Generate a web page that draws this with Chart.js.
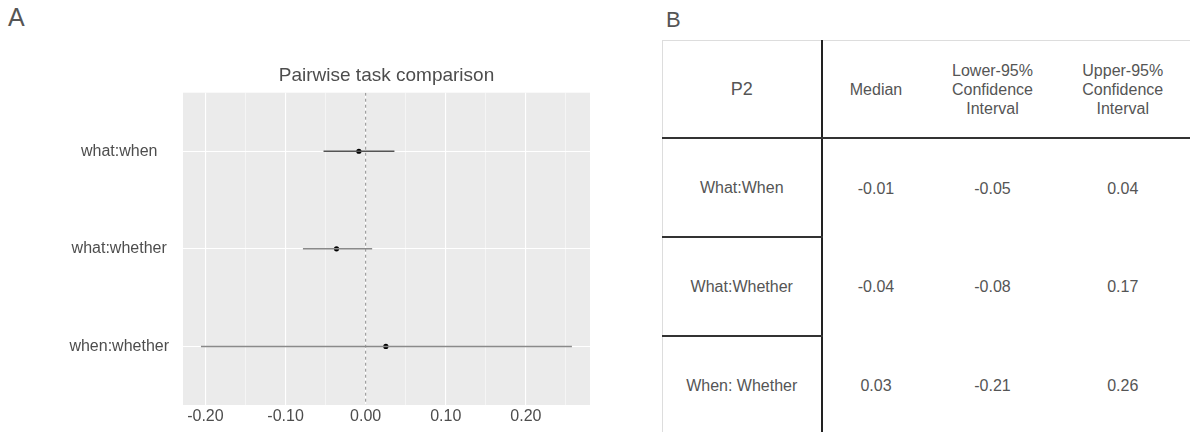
<!DOCTYPE html>
<html>
<head>
<meta charset="utf-8">
<script src="https://cdn.jsdelivr.net/npm/chart.js@4.4.1/dist/chart.umd.min.js"></script>
<style>
    body { margin: 0; background: #fff; width: 1190px; height: 432px; overflow: hidden; position: relative; font-family: "Liberation Sans", Arial, sans-serif; }
    .panel-tag { position: absolute; color: #555; font-weight: normal; }
    #tagA { left: 8px; top: 5px; font-size: 25px; line-height: 25px; }
    #tagB { left: 666px; top: 9px; font-size: 22px; line-height: 22px; }
    #plot-wrap { position: absolute; left: 0; top: 0; width: 600px; height: 432px; }
    #tbl { position: absolute; left: 662px; top: 40px; width: 528px; border-collapse: collapse; table-layout: fixed; }
    #tbl td { text-align: center; vertical-align: middle; color: #555; font-size: 16px; line-height: 19px; padding: 0; }
    #tbl tr.head td { height: 96px; border-top: 1px solid #ddd; border-bottom: 2px solid #333; }
    #tbl tr.body td { height: 97px; }
    #tbl td.name { border-left: 1px solid #ddd; border-right: 2px solid #222; }
    #tbl tr.body td.name.sep { border-bottom: 2px solid #333; }
    #tbl td.last { border-right: 1px solid #ddd; }
    #tbl td.p2 { font-size: 18px; }
</style>
</head>
<body>
<div class="panel-tag" id="tagA">A</div>
<div class="panel-tag" id="tagB">B</div>
<div id="plot-wrap"><canvas id="forest" width="600" height="432"></canvas></div>
<table id="tbl">
    <colgroup><col style="width:159px"><col style="width:108px"><col style="width:126px"><col style="width:135px"></colgroup>
    <tbody id="tbl-body"></tbody>
</table>
<script>
// 森林图数据 (panel A)
const rowLabels = ['what:when', 'what:whether', 'when:whether'];
const medians = [-0.0085, -0.0364, 0.0252];
const lower = [-0.0526, -0.0783, -0.2056];
const upper = [0.0359, 0.0081, 0.2574];
const xTicks = [-0.2, -0.1, 0, 0.1, 0.2];
const xMinor = [-0.15, -0.05, 0.05, 0.15, 0.25];

// 表格数据 (panel B)
const tableHead = ['P2', 'Median', 'Lower-95%<br>Confidence<br>Interval', 'Upper-95%<br>Confidence<br>Interval'];
const tableNames = ['What:When', 'What:Whether', 'When: Whether'];
const tableMedian = ['-0.01', '-0.04', '0.03'];
const tableLower = ['-0.05', '-0.08', '-0.21'];
const tableUpper = ['0.04', '0.17', '0.26'];

const ciColors = ['#555555', '#8a8a8a', '#8a8a8a'];
const textGray = '#4d4d4d';

Chart.defaults.font.family = '"Liberation Sans", Arial, sans-serif';

const panelBg = {
    id: 'panelBg',
    beforeDraw(chart) {
        const a = chart.chartArea;
        const ctx = chart.ctx;
        ctx.save();
        ctx.fillStyle = '#ebebeb';
        ctx.fillRect(a.left, a.top, a.right - a.left, a.bottom - a.top);
        ctx.restore();
    }
};

function initChart() {
    const datasets = [];
    // 置信区间线
    rowLabels.forEach((lab, i) => {
        datasets.push({
            label: lab,
            data: [{ x: lower[i], y: i + 1 }, { x: upper[i], y: i + 1 }],
            showLine: true,
            borderColor: ciColors[i],
            borderWidth: 1.5,
            pointRadius: 0
        });
    });
    // 零参考线
    datasets.push({
        label: 'zero',
        data: [{ x: 0, y: 0.4 }, { x: 0, y: 3.6 }],
        showLine: true,
        borderColor: '#8c8c8c',
        borderWidth: 1,
        borderDash: [3, 3],
        pointRadius: 0
    });
    // 中位数点
    datasets.push({
        label: 'median',
        data: medians.map((m, i) => ({ x: m, y: i + 1 })),
        pointRadius: 2.6,
        backgroundColor: '#000',
        borderWidth: 0
    });

    new Chart(document.getElementById('forest'), {
        type: 'scatter',
        data: { datasets },
        plugins: [panelBg],
        options: {
            responsive: false,
            animation: false,
            layout: { padding: { left: 0, right: 10, top: 0, bottom: 0 } },
            plugins: {
                legend: { display: false },
                tooltip: { enabled: false },
                title: {
                    display: true,
                    text: 'Pairwise task comparison',
                    color: textGray,
                    fullSize: false,
                    font: { size: 19, weight: 'normal' },
                    padding: { top: 64.6, bottom: 5.3 }
                }
            },
            scales: {
                x: {
                    type: 'linear',
                    min: -0.228,
                    max: 0.28,
                    afterBuildTicks: s => {
                        s.ticks = xTicks.concat(xMinor).sort((a, b) => a - b).map(v => ({ value: v }));
                    },
                    afterFit: s => { s.height = 27; },
                    border: { display: false },
                    grid: {
                        color: '#ffffff',
                        lineWidth: c => (xTicks.includes(c.tick.value) ? 1.1 : 0.5),
                        drawTicks: false
                    },
                    ticks: {
                        autoSkip: false,
                        maxRotation: 0,
                        padding: 2,
                        color: textGray,
                        font: { size: 16 },
                        callback: v => (xTicks.includes(v) ? v.toFixed(2) : '')
                    }
                },
                y: {
                    type: 'linear',
                    reverse: true,
                    min: 0.4,
                    max: 3.6,
                    afterBuildTicks: s => {
                        s.ticks = rowLabels.map((l, i) => ({ value: i + 1 }));
                    },
                    afterFit: s => { s.width = 183; },
                    border: { display: false },
                    grid: { color: '#ffffff', lineWidth: 1.1, drawTicks: false },
                    ticks: {
                        autoSkip: false,
                        crossAlign: 'center',
                        padding: 14,
                        color: textGray,
                        font: { size: 16 },
                        callback: v => rowLabels[v - 1]
                    }
                }
            }
        }
    });
}

function buildTable() {
    const tbody = document.getElementById('tbl-body');
    let html = '<tr class="head">';
    tableHead.forEach((h, j) => {
        let cls = j === 0 ? 'name p2' : (j === tableHead.length - 1 ? 'last' : '');
        html += `<td class="${cls}">${h}</td>`;
    });
    html += '</tr>';
    tableNames.forEach((n, i) => {
        const sep = i < tableNames.length - 1 ? ' sep' : '';
        html += `<tr class="body">
            <td class="name${sep}">${n}</td>
            <td>${tableMedian[i]}</td>
            <td>${tableLower[i]}</td>
            <td class="last">${tableUpper[i]}</td>
        </tr>`;
    });
    tbody.innerHTML = html;
}

buildTable();
initChart();
</script>
</body>
</html>
